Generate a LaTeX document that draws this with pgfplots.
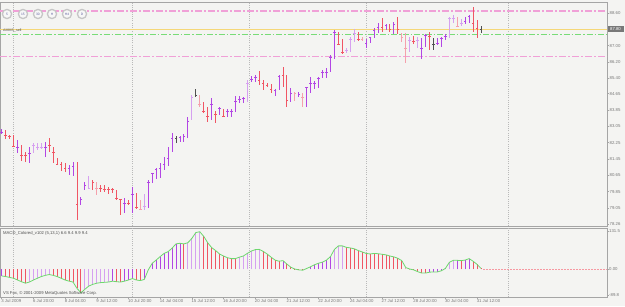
\documentclass[border=0pt]{standalone}
\usepackage{pgfplots}
\usepackage{pgfplotstable}
\pgfplotsset{compat=1.18}
\usepackage{fontspec}
\setmainfont{Liberation Sans}
\definecolor{bg}{RGB}{244,244,242}
\definecolor{cred}{RGB}{240,85,100}
\definecolor{cpur}{RGB}{178,70,228}
\definecolor{clpur}{RGB}{214,160,240}
\definecolor{clred}{RGB}{245,160,172}
\definecolor{cgray}{RGB}{80,80,80}
\definecolor{frame}{RGB}{165,165,165}
\definecolor{lpink}{RGB}{240,160,215}
\definecolor{lgreen}{RGB}{120,220,120}
\definecolor{lyellow}{RGB}{245,215,120}
\definecolor{macdg}{RGB}{110,215,110}
\definecolor{txt}{RGB}{120,120,120}
\definecolor{boxc}{RGB}{120,120,120}

% price bars: index, high, low, close, colour class
\pgfplotstableread{
i h l c k
0 82.92 82.67 82.77 2
1 82.87 82.43 82.62 1
2 82.62 82.43 82.57 1
3 82.62 82.03 82.08 1
4 82.38 81.74 82.03 2
5 82.13 81.35 81.64 1
6 81.79 81.30 81.64 1
7 82.03 81.25 81.74 2
8 82.23 81.74 82.13 3
9 82.23 81.89 81.99 3
10 82.23 81.94 81.99 3
11 82.28 81.54 81.99 2
12 82.47 81.79 82.13 1
13 82.03 81.25 81.79 1
14 81.49 81.15 81.20 1
15 81.30 80.86 81.20 1
16 81.25 80.81 81.00 1
17 81.15 80.66 80.96 2
18 81.30 80.61 81.10 2
19 81.30 78.46 79.24 1
20 79.58 79.19 79.44 2
21 80.32 79.93 80.17 2
22 80.61 79.97 80.02 3
23 80.42 79.93 80.32 1
24 80.32 79.68 80.02 4
25 80.17 79.83 80.02 1
26 80.17 79.83 79.93 1
27 80.06 79.73 79.93 1
28 80.02 79.78 79.93 1
29 79.93 79.44 79.49 1
30 79.44 78.70 79.44 1
31 79.54 78.80 79.29 2
32 79.44 79.19 79.29 1
33 80.06 78.80 79.73 2
34 79.78 78.99 79.09 1
35 79.44 78.95 78.99 4
36 79.73 78.95 79.14 3
37 80.42 79.04 80.32 2
38 80.76 80.27 80.76 2
39 81.00 80.47 80.91 2
40 81.25 80.51 80.96 2
41 81.54 80.91 81.20 2
42 82.03 81.10 81.49 2
43 82.72 81.79 82.47 2
44 82.57 82.23 82.43 5
45 82.57 82.28 82.52 2
46 82.67 82.28 82.57 2
47 83.50 82.47 83.31 2
48 84.58 83.36 84.48 3
49 84.88 84.48 84.58 5
50 84.58 83.99 84.14 4
51 84.24 83.70 83.80 1
52 83.99 83.26 83.55 1
53 84.43 83.36 84.14 2
54 83.80 83.21 83.65 1
55 83.99 83.60 83.90 2
56 83.90 83.50 83.55 1
57 83.90 83.50 83.80 2
58 83.90 83.50 83.80 2
59 84.53 83.75 84.29 2
60 84.53 84.19 84.39 2
61 84.48 84.19 84.43 2
62 85.32 84.24 85.17 3
63 85.51 85.22 85.37 2
64 85.56 85.22 85.46 2
65 85.76 85.07 85.32 1
66 85.32 84.83 85.13 1
67 85.17 84.97 85.07 1
68 85.13 84.68 84.88 1
69 84.88 84.53 84.83 2
70 85.56 84.83 85.51 2
71 85.95 84.97 85.56 1
72 85.56 83.99 84.34 1
73 84.93 84.24 84.68 2
74 84.73 84.29 84.68 4
75 84.73 84.48 84.63 2
76 84.68 83.99 84.48 4
77 84.97 83.99 84.97 2
78 85.46 84.68 85.17 2
79 85.27 84.88 85.17 2
80 85.46 84.93 85.41 2
81 85.81 85.41 85.71 2
82 85.90 85.41 85.71 2
83 86.54 85.71 86.40 2
84 87.77 86.35 87.67 2
85 87.67 87.03 87.08 1
86 87.33 86.59 86.69 1
87 86.89 86.64 86.79 3
88 87.42 86.69 87.33 3
89 87.82 87.18 87.62 3
90 87.67 87.23 87.33 1
91 87.42 87.23 87.33 4
92 87.33 86.89 87.13 2
93 87.42 87.13 87.42 2
94 87.87 87.38 87.77 2
95 88.11 87.62 87.91 2
96 88.36 87.67 87.91 1
97 88.06 87.77 88.01 2
98 88.06 87.67 87.82 1
99 88.16 87.57 88.06 2
100 88.40 87.57 87.82 1
101 87.62 87.18 87.42 4
102 87.62 86.15 86.89 4
103 87.42 86.69 87.28 3
104 87.47 87.08 87.23 1
105 87.42 86.89 87.28 3
106 87.38 86.35 86.89 2
107 87.57 86.93 87.52 2
108 87.67 86.79 87.47 1
109 87.38 86.79 87.08 5
110 87.38 87.03 87.13 2
111 87.42 86.93 87.38 2
112 87.57 87.28 87.47 2
113 88.40 87.38 88.36 3
114 88.50 88.11 88.36 3
115 88.40 87.91 87.96 4
116 88.31 87.96 88.11 3
117 88.40 88.06 88.21 2
118 88.50 88.11 88.45 2
119 88.89 87.67 88.11 1
120 88.26 87.38 87.87 1
121 87.96 87.62 87.82 5
}\bars

% MACD histogram: index, value, colour class
\pgfplotstableread{
i v k
0 -23 2
1 -25 1
2 -28 1
3 -31 1
4 -37 1
5 -43 1
6 -48 1
7 -44 3
8 -37 3
9 -31 3
10 -25 3
11 -21 3
12 -18 3
13 -21 1
14 -25 1
15 -31 1
16 -37 1
17 -41 1
18 -44 1
19 -66 1
20 -81 1
21 -69 3
22 -58 3
23 -52 3
24 -48 3
25 -46 3
26 -45 3
27 -44 3
28 -41 2
29 -43 1
30 -44 1
31 -41 2
32 -37 2
33 -32 2
34 -37 1
35 -39 1
36 -35 2
37 -2 2
38 21 2
39 32 2
40 44 2
41 55 2
42 61 2
43 73 2
44 88 2
45 90 2
46 88 1
47 92 3
48 107 3
49 127 3
50 130 3
51 114 1
52 92 1
53 75 1
54 65 1
55 53 1
56 46 1
57 40 1
58 37 1
59 37 1
60 42 3
61 46 3
62 55 3
63 63 3
64 68 3
65 69 3
66 62 1
67 53 1
68 42 1
69 32 1
70 28 1
71 30 2
72 18 1
73 7 1
74 1 1
75 -2 1
76 -3 1
77 3 2
78 9 2
79 16 2
80 21 2
81 25 2
82 32 2
83 44 2
84 69 3
85 81 3
86 81 3
87 76 1
88 74 1
89 71 1
90 65 1
91 60 1
92 55 1
93 53 1
94 55 1
95 54 1
96 52 1
97 50 1
98 46 1
99 43 1
100 38 1
101 30 1
102 6 4
103 1 4
104 -2 1
105 -8 1
106 -13 1
107 -13 1
108 -10 2
109 -9 2
110 -9 2
111 -5 2
112 3 2
113 24 3
114 31 3
115 31 2
116 30 1
117 32 2
118 37 2
119 28 1
120 17 1
121 3 1
}\macd

\pgfplotsset{
  ohlc/.style={only marks, mark=-, mark size=1.3pt, color=#1,
    mark options={line width=0.8pt, color=#1},
    error bars/y dir=both, error bars/y explicit, error bars/error mark=none,
    error bars/error bar style={line width=0.9pt, color=#1}},
  hist/.style={ycomb, mark=none, line width=0.9pt, color=#1},
  mtgrid/.style={
    extra x ticks={2.85,32.9,62.4,92,127.9}, extra x tick labels={},
    extra x tick style={grid=major, major tick length=0pt},
    major grid style={dash pattern=on 1pt off 1.2pt, color=gray!55, line width=0.7pt}},
}

\begin{document}
\begin{tikzpicture}
\useasboundingbox (0,0) rectangle (625pt,306pt);
\fill[bg] (0,0) rectangle (625pt,306pt);

% ---------------- price panel ----------------
\begin{axis}[
  at={(0pt,80pt)}, anchor=south west, scale only axis,
  width=607pt, height=224pt,
  xmin=-0.43, xmax=152.8, ymin=78.16, ymax=89.14,
  axis line style={frame, line width=0.9pt},
  xtick=\empty, mtgrid,
  ytick={78.26,79.05,79.85,80.65,81.45,82.25,83.05,83.85,84.65,85.40,86.20,87.00,88.60},
  yticklabel pos=right, ytick pos=right,
  tick align=outside, major tick length=2pt,
  ytick style={frame, line width=0.5pt},
  yticklabel style={font=\fontsize{4.3}{5}\selectfont, color=txt, anchor=west, inner sep=0pt, xshift=0.5pt,
    /pgf/number format/.cd, fixed, fixed zerofill, precision=2, assume math mode=true},
]
\addplot[lpink, line width=1.3pt, dash pattern=on 7pt off 2pt on 2pt off 2pt] coordinates {(-0.43,88.70) (152.8,88.70)};
\addplot[lpink, line width=1.3pt, dash pattern=on 7pt off 2pt on 2pt off 2pt] coordinates {(-0.43,86.46) (152.8,86.46)};
\addplot[lgreen, line width=0.9pt, dash pattern=on 6pt off 2pt on 1.5pt off 2pt] coordinates {(-0.43,87.57) (152.8,87.57)};
\addplot[lyellow, line width=0.9pt] coordinates {(-0.43,87.80) (152.8,87.80)};

\addplot[ohlc=cred, restrict expr to domain={\thisrow{k}}{1:1}] table[x=i, y=c, y error plus expr=\thisrow{h}-\thisrow{c}, y error minus expr=\thisrow{c}-\thisrow{l}] {\bars};
\addplot[ohlc=cpur, restrict expr to domain={\thisrow{k}}{2:2}] table[x=i, y=c, y error plus expr=\thisrow{h}-\thisrow{c}, y error minus expr=\thisrow{c}-\thisrow{l}] {\bars};
\addplot[ohlc=clpur, restrict expr to domain={\thisrow{k}}{3:3}] table[x=i, y=c, y error plus expr=\thisrow{h}-\thisrow{c}, y error minus expr=\thisrow{c}-\thisrow{l}] {\bars};
\addplot[ohlc=clred, restrict expr to domain={\thisrow{k}}{4:4}] table[x=i, y=c, y error plus expr=\thisrow{h}-\thisrow{c}, y error minus expr=\thisrow{c}-\thisrow{l}] {\bars};
\addplot[ohlc=cgray, restrict expr to domain={\thisrow{k}}{5:5}] table[x=i, y=c, y error plus expr=\thisrow{h}-\thisrow{c}, y error minus expr=\thisrow{c}-\thisrow{l}] {\bars};
\end{axis}

% ---------------- MACD panel ----------------
\begin{axis}[
  at={(0pt,9pt)}, anchor=south west, scale only axis,
  width=607pt, height=69pt,
  xmin=-0.43, xmax=152.8, ymin=-95.8, ymax=142.9,
  axis line style={frame, line width=0.9pt},
  mtgrid,
  xtick={0,8,...,120},
  xticklabels={3 Jul 2009,6 Jul 20:00,8 Jul 04:00,9 Jul 12:00,10 Jul 20:00,14 Jul 04:00,15 Jul 12:00,16 Jul 20:00,20 Jul 04:00,21 Jul 12:00,22 Jul 20:00,24 Jul 04:00,27 Jul 12:00,28 Jul 20:00,30 Jul 04:00,31 Jul 12:00},
  xtick pos=lower, ytick pos=right, yticklabel pos=right,
  tick align=outside, major tick length=1.5pt,
  tick style={frame, line width=0.5pt},
  xticklabel style={font=\fontsize{4.3}{5}\selectfont, color=txt, anchor=north west, inner sep=0pt, xshift=-0.5pt, yshift=-0.5pt},
  ytick={-89.8,0,131.5}, yticklabels={-89.8,0.00,131.5},
  yticklabel style={font=\fontsize{4.3}{5}\selectfont, color=txt, anchor=west, inner sep=0pt, xshift=0.5pt},
]
\addplot[hist=cred, restrict expr to domain={\thisrow{k}}{1:1}] table[x=i,y=v] {\macd};
\addplot[hist=cpur, restrict expr to domain={\thisrow{k}}{2:2}] table[x=i,y=v] {\macd};
\addplot[hist=clpur, restrict expr to domain={\thisrow{k}}{3:3}] table[x=i,y=v] {\macd};
\addplot[hist=clred, restrict expr to domain={\thisrow{k}}{4:4}] table[x=i,y=v] {\macd};
\addplot[macdg, line width=0.8pt, mark=none] table[x=i,y=v] {\macd};
\addplot[cred!60, line width=0.6pt, dash pattern=on 1.5pt off 1.5pt] coordinates {(121.5,0) (152.8,0)};
\end{axis}

% labels and chart furniture
\node[anchor=west, inner sep=0pt, font=\fontsize{4.2}{5}\selectfont, color=cgray] at (3pt,73pt) {MACD\_Colored\_v102 (5,13,1) 6.6 9.4 9.9 9.4};
\node[anchor=west, inner sep=0pt, font=\fontsize{4.2}{5}\selectfont, color=cgray] at (3pt,13pt) {VS Fox, © 2001-2009 MetaQuotes Software Corp.};
\node[anchor=west, inner sep=0pt, font=\fontsize{3.6}{4}\selectfont, color=cgray] at (3pt,275pt) {AMMS\_sell};
\node[fill=boxc, text=white, inner sep=0pt, minimum width=16pt, minimum height=6pt, font=\fontsize{4.3}{5}\selectfont] at (615.5pt,276.5pt) {87.80};
\foreach \x/\t in {7/5, 23/15, 38/30, 52/H, 67/H4, 82/D} {
  \draw[color=gray!45, line width=1.3pt, fill=gray!6] (\x pt,292pt) circle (4.6pt);
  \node[font=\fontsize{3.3}{4}\selectfont, color=blue!25!gray, inner sep=0pt] at (\x pt,292pt) {\t};
}
\end{tikzpicture}
\end{document}
